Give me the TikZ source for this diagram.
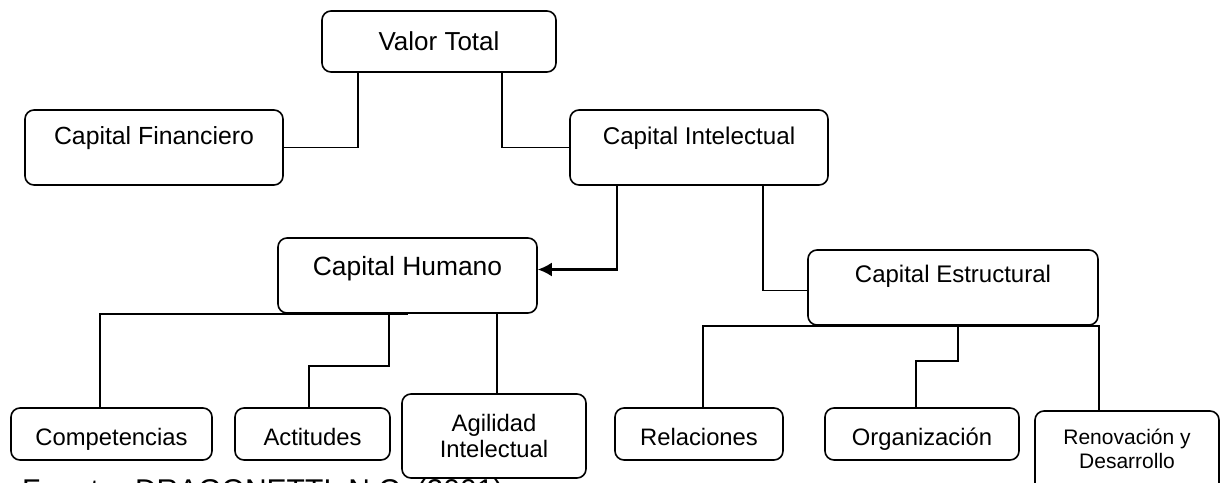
\documentclass[tikz,border=0pt]{standalone}
\usepackage{fontspec}
\setmainfont{Liberation Sans}
\usetikzlibrary{arrows.meta}
% lift a label inside its box without changing the box size
\newcommand\liftby[2]{\raisebox{#1}[\height][\depth]{#2}}
\begin{document}
\begin{tikzpicture}[x=1pt,y=-1pt,
  box/.style={draw, line width=1.6pt, rounded corners=9pt, inner sep=0pt,
    align=center, font=\fontsize{23.8}{26}\selectfont},
  leaf/.style={box, minimum height=52pt, text height=24pt, text depth=2pt},
  conn/.style={line width=1.6pt},
  arrowconn/.style={line width=2.2pt, -{Latex[length=14pt,width=14pt]}}]
\useasboundingbox (0,0) rectangle (1221,482);

% top level
\node[box, minimum width=234pt, minimum height=61pt,
  font=\fontsize{26}{30}\selectfont] (vt) at (439,41.5) {Valor Total};
\node[box, minimum width=258pt, minimum height=75pt,
  font=\fontsize{24.8}{28}\selectfont] (cf) at (154,147.5) {\liftby{9pt}{Capital Financiero}};
\node[box, minimum width=258pt, minimum height=75pt,
  font=\fontsize{24.2}{28}\selectfont] (ci) at (699,147.5) {\liftby{9pt}{Capital Intelectual}};

% second level
\node[box, minimum width=259pt, minimum height=75pt,
  font=\fontsize{26.4}{30}\selectfont] (ch) at (407.5,275.5) {\liftby{7pt}{Capital Humano}};
\node[box, minimum width=290pt, minimum height=75pt,
  font=\fontsize{24}{28}\selectfont] (ce) at (953,287.5) {\liftby{11pt}{Capital Estructural}};

% leaves
\node[leaf, minimum width=201pt] (co) at (111.5,434) {Competencias};
\node[leaf, minimum width=155pt] (ac) at (312.5,434) {Actitudes};
\node[box, minimum width=184pt, minimum height=84pt] (ag) at (494,436) {Agilidad\\Intelectual};
\node[leaf, minimum width=168pt] (re) at (699,434) {Relaciones};
\node[leaf, minimum width=194pt] (or) at (922,434) {Organización};
\node[box, minimum width=184pt, minimum height=82pt,
  font=\fontsize{21}{24}\selectfont] (rd) at (1127,452) {\begin{tabular}{@{}c@{}}Renovación y\\Desarrollo\end{tabular}};

% source line
\node[anchor=base west, inner sep=0pt, font=\fontsize{30}{34}\selectfont] (src)
  at (22,500) {Fuente: DRAGONETTI, N.C. (2001)};

% connectors
\draw[conn] ([xshift=-81pt]vt.south) |- (cf.east);
\draw[conn] ([xshift=63pt]vt.south) |- (ci.west);
\draw[arrowconn] ([xshift=-82pt]ci.south) |- ([yshift=6pt]ch.east);
\draw[conn] ([xshift=64pt]ci.south) |- ([yshift=-3pt]ce.west);

\draw[conn] ([xshift=-11.5pt]co.north) |- (ch.south);
\draw[conn] ([xshift=-18.5pt]ch.south) -- ++(0,52) -| ([xshift=-3.5pt]ac.north);
\draw[conn] ([xshift=89.5pt]ch.south) -- ([xshift=3pt]ag.north);

\draw[conn] ([xshift=4pt]re.north) |- (ce.south);
\draw[conn] ([xshift=5pt]ce.south) -- ++(0,35) -| ([xshift=-6pt]or.north);
\draw[conn] (ce.south) -- (ce.south east) -- (ce.south east |- rd.north);
\end{tikzpicture}
\end{document}
